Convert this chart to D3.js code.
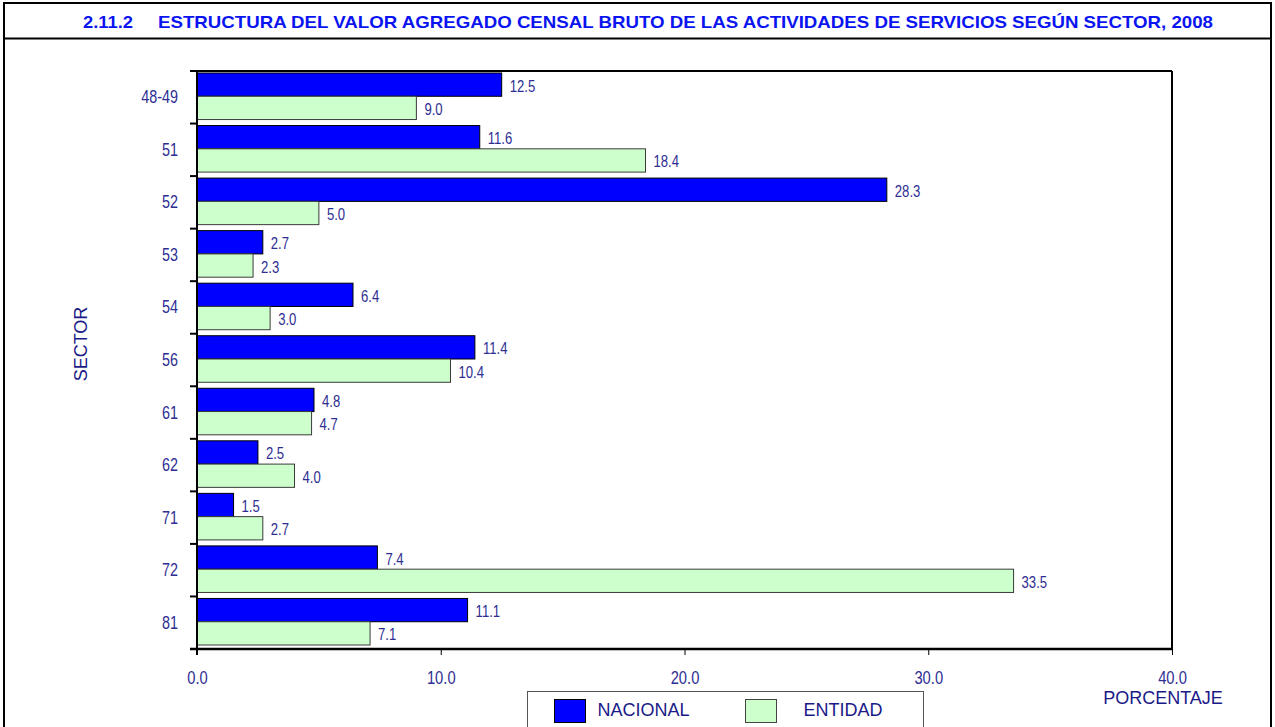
<!DOCTYPE html>
<html>
<head>
<meta charset="utf-8">
<script src="https://cdn.jsdelivr.net/npm/d3@7"></script>
<style>
  html, body { margin: 0; padding: 0; background: #fff; }
  svg { display: block; }
</style>
</head>
<body>
<script>
// Sector codes and their shares (%) of gross census value added
const sectors = ["48-49", "51", "52", "53", "54", "56", "61", "62", "71", "72", "81"];
const nacional = [12.5, 11.6, 28.3, 2.7, 6.4, 11.4, 4.8, 2.5, 1.5, 7.4, 11.1];
const entidad  = [9.0, 18.4, 5.0, 2.3, 3.0, 10.4, 4.7, 4.0, 2.7, 33.5, 7.1];
const xTicks = [0, 10, 20, 30, 40];
const seriesNames = ["NACIONAL", "ENTIDAD"];

const W = 1275, H = 727;
const plot = { left: 197, right: 1172, top: 71, bottom: 649 };
const labelColor = "#2e2e92";
const textColor = "#1a1a88";
const sans = "Arial, 'Liberation Sans', sans-serif";
const condense = 0.82; // horizontal squeeze for the condensed label face

const svg = d3.select("body").append("svg").attr("width", W).attr("height", H);

// Condensed text helper: draws text squeezed horizontally around its anchor point
function condensed(sel, size) {
  return sel.attr("font-family", sans).attr("font-size", size).attr("fill", labelColor);
}

// Outer frame and heading band
svg.append("rect").attr("x", 4).attr("y", 3).attr("width", W - 8).attr("height", H + 10)
  .attr("fill", "none").attr("stroke", "#000").attr("stroke-width", 2);
svg.append("line").attr("x1", 4).attr("x2", W - 4).attr("y1", 38.5).attr("y2", 38.5)
  .attr("stroke", "#000").attr("stroke-width", 2);
const heading = svg.append("g").attr("font-family", sans).attr("font-weight", "bold")
  .attr("font-size", 17).attr("fill", "#0a14f0");
heading.append("text").attr("x", 83).attr("y", 28)
  .attr("textLength", 50).attr("lengthAdjust", "spacingAndGlyphs")
  .text("2.11.2");
heading.append("text").attr("x", 158).attr("y", 28)
  .attr("textLength", 1055).attr("lengthAdjust", "spacingAndGlyphs")
  .text("ESTRUCTURA DEL VALOR AGREGADO CENSAL BRUTO DE LAS ACTIVIDADES DE SERVICIOS SEGÚN SECTOR, 2008");

// Scales
const x = d3.scaleLinear().domain([0, 40]).range([plot.left, plot.right]);
const y = d3.scaleBand().domain(sectors).range([plot.top, plot.bottom]);
const inner = d3.scaleBand().domain(seriesNames).range([2, y.bandwidth() - 4]);

const data = sectors.map((s, i) => ({ sector: s, values: [
  { key: "NACIONAL", v: nacional[i] },
  { key: "ENTIDAD", v: entidad[i] }
]}));

const fills = { NACIONAL: "#0000ff", ENTIDAD: "#ccffcc" };
const strokes = { NACIONAL: "#000", ENTIDAD: "#3a3a3a" };

// Plot area box (top and right edges)
svg.append("line").attr("x1", plot.left - 7).attr("x2", plot.right).attr("y1", plot.top).attr("y2", plot.top)
  .attr("stroke", "#000").attr("stroke-width", 2);
svg.append("line").attr("x1", plot.right).attr("x2", plot.right).attr("y1", plot.top).attr("y2", plot.bottom)
  .attr("stroke", "#000").attr("stroke-width", 2);

// Bars
const groups = svg.append("g").selectAll("g").data(data).join("g")
  .attr("transform", d => `translate(0,${y(d.sector)})`);
groups.selectAll("rect").data(d => d.values).join("rect")
  .attr("x", x(0))
  .attr("y", d => inner(d.key))
  .attr("width", d => x(d.v) - x(0))
  .attr("height", inner.bandwidth())
  .attr("fill", d => fills[d.key])
  .attr("stroke", d => strokes[d.key])
  .attr("stroke-width", 1);
groups.selectAll("text").data(d => d.values).join("text")
  .attr("transform", d => `translate(${x(d.v) + 8},${inner(d.key) + inner.bandwidth() / 2 + 7}) scale(${condense},1)`)
  .call(condensed, 16)
  .text(d => d3.format(".1f")(d.v));

// Y axis: line with ticks at category boundaries
const yAxis = svg.append("g");
yAxis.append("line").attr("x1", plot.left).attr("x2", plot.left).attr("y1", plot.top).attr("y2", plot.bottom + 6)
  .attr("stroke", "#000").attr("stroke-width", 2);
const boundaries = sectors.slice(1).map(s => y(s)).concat([plot.bottom]);
yAxis.selectAll("line.b").data(boundaries).join("line")
  .attr("class", "b")
  .attr("x1", plot.left - 7).attr("x2", plot.left)
  .attr("y1", d => d).attr("y2", d => d)
  .attr("stroke", "#000").attr("stroke-width", 2);
yAxis.selectAll("text").data(sectors).join("text")
  .attr("transform", d => `translate(178,${y(d) + y.bandwidth() / 2 + 6}) scale(${condense},1)`)
  .attr("text-anchor", "end")
  .call(condensed, 17.5)
  .text(d => d);

// X axis
const xAxis = svg.append("g").attr("transform", `translate(0,${plot.bottom})`)
  .call(d3.axisBottom(x).tickValues(xTicks).tickFormat(d3.format(".1f")).tickSize(6).tickPadding(0));
xAxis.select(".domain").attr("d", `M${plot.left - 7},0H${plot.right}`).attr("stroke", "#000").attr("stroke-width", 2.5);
xAxis.selectAll(".tick line").attr("stroke", "#000");
xAxis.selectAll(".tick text")
  .attr("y", null).attr("dy", null)
  .attr("transform", `translate(0,35) scale(${condense},1)`)
  .call(condensed, 18);

// Axis titles
svg.append("text").attr("x", 1163).attr("y", 704).attr("text-anchor", "middle")
  .attr("font-family", sans).attr("font-size", 18).attr("fill", textColor)
  .text("PORCENTAJE");
svg.append("text").attr("transform", "translate(87,344) rotate(-90)").attr("text-anchor", "middle")
  .attr("font-family", sans).attr("font-size", 18).attr("fill", textColor)
  .text("SECTOR");

// Legend
const legend = svg.append("g");
legend.append("rect").attr("x", 527.5).attr("y", 691.5).attr("width", 396).attr("height", 50)
  .attr("fill", "#fff").attr("stroke", "#555").attr("stroke-width", 1);
const items = legend.selectAll("g").data(seriesNames).join("g")
  .attr("transform", (d, i) => `translate(${554.5 + i * 191},699.5)`);
items.append("rect").attr("width", 31).attr("height", 23)
  .attr("fill", d => fills[d]).attr("stroke", d => d === "NACIONAL" ? "#000" : "#444");
items.append("text").attr("x", (d, i) => i === 0 ? 43 : 58).attr("y", 16)
  .attr("font-family", sans).attr("font-size", 18).attr("fill", textColor)
  .text(d => d);
</script>
</body>
</html>
